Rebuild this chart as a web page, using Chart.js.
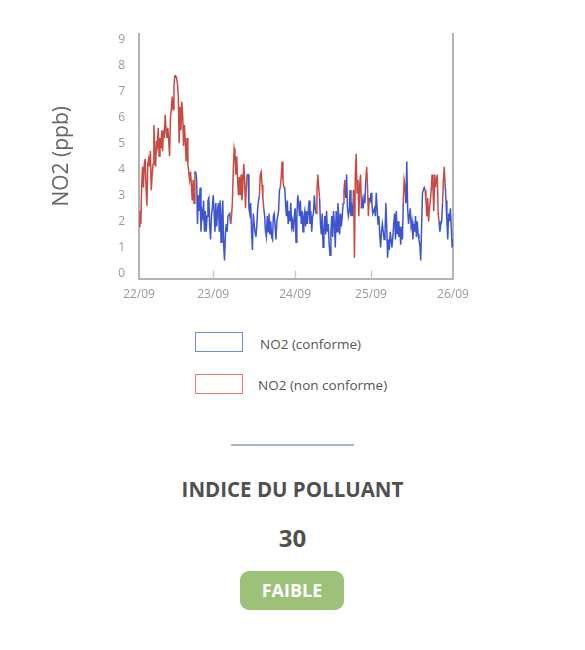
<!DOCTYPE html>
<html lang="fr">
<head>
<meta charset="utf-8">
<title>NO2</title>
<script src="https://cdn.jsdelivr.net/npm/chart.js@4/dist/chart.umd.min.js"></script>
<style>
  html, body { margin: 0; padding: 0; background: #fff; }
  body { width: 585px; height: 650px; position: relative; overflow: hidden; font-family: "Open Sans", sans-serif; }
  #chartBox { position: absolute; left: 0; top: 0; width: 585px; height: 312px; }
  .lgBox { position: absolute; left: 195px; width: 46px; height: 18px; border: 1px solid; background: #fff; }
  .lgText { position: absolute; font-size: 13.5px; color: #555; line-height: 18px; }
  .divider { position: absolute; left: 231px; top: 444px; width: 123px; height: 2px; background: #a6b8c7; }
  .indice { position: absolute; left: 0; width: 585px; text-align: center; font-weight: 700; color: #505050; }
  .badge { position: absolute; left: 240px; top: 571px; width: 104px; height: 39px; border-radius: 9px;
           background: #9cc27a; color: #fff; font-weight: 700; font-size: 18px; line-height: 39px; text-align: center; }
</style>
</head>
<body>
<div id="chartBox"><canvas id="no2Chart"></canvas></div>

<div class="lgBox" style="top:332px; border-color:#7289dc;"></div>
<div class="lgText" style="left:260px; top:335px;">NO2 (conforme)</div>
<div class="lgBox" style="top:374px; border-color:#ee7676;"></div>
<div class="lgText" style="left:258px; top:376px;">NO2 (non conforme)</div>

<div class="divider"></div>
<div class="indice" style="top:475px; font-size:20.5px;">INDICE DU POLLUANT</div>
<div class="indice" style="top:521px; font-size:24px;">30</div>
<div class="badge">FAIBLE</div>

<script>
// NO2 (ppb), one value per sample from 22/09 to 26/09
const no2 = [
  2.0, 2.6, 2.1, 3.6, 4.3, 3.5, 4.4, 4.6, 3.5, 2.8,
  4.4, 4.6, 4.3, 4.9, 3.4, 4.0, 4.4, 5.9, 4.9, 4.3,
  5.3, 5.1, 5.8, 4.7, 5.4, 5.0, 5.7, 4.9, 5.7, 5.4,
  6.3, 5.7, 5.4, 5.8, 5.3, 4.7, 6.2, 6.5, 7.0, 6.5,
  7.4, 7.8, 7.8, 7.7, 7.5, 7.0, 5.2, 6.6, 5.7, 6.8,
  6.3, 5.1, 5.9, 5.3, 4.5, 5.4, 4.4, 4.1, 3.8, 4.1,
  3.6, 3.0, 3.8, 2.9, 4.1, 4.1, 3.8, 2.1, 3.2, 2.6,
  3.5, 1.8, 2.6, 2.4, 3.0, 1.8, 2.6, 1.8, 2.4, 3.0,
  3.1, 2.0, 1.5, 2.4, 2.7, 3.2, 2.6, 1.8, 2.9, 2.0,
  2.6, 2.9, 1.8, 3.0, 1.4, 2.4, 3.0, 1.3, 0.7, 1.7,
  2.1, 1.8, 2.4, 2.4, 2.5, 2.1, 2.4, 2.9, 4.1, 5.0,
  4.8, 4.0, 4.7, 3.8, 3.2, 3.9, 3.2, 4.0, 3.0, 3.5,
  4.4, 3.9, 2.7, 3.5, 4.0, 4.0, 2.7, 2.5, 2.9, 1.8,
  1.1, 2.5, 2.1, 1.8, 1.6, 2.0, 2.7, 3.0, 3.2, 4.0,
  4.1, 3.6, 3.1, 2.7, 2.4, 1.8, 1.6, 2.4, 1.8, 2.5,
  1.7, 2.2, 1.6, 1.5, 2.4, 2.5, 2.0, 1.5, 2.2, 2.4,
  2.6, 3.4, 3.5, 3.9, 4.5, 3.8, 3.5, 3.5, 2.9, 2.4,
  3.0, 2.1, 2.6, 2.2, 2.9, 2.0, 2.2, 1.8, 2.4, 2.7,
  1.4, 2.4, 3.2, 2.9, 2.4, 3.0, 2.1, 2.6, 1.8, 2.4,
  2.6, 2.0, 2.6, 2.1, 2.6, 3.0, 2.1, 2.6, 1.8, 2.4,
  2.5, 3.2, 2.7, 2.5, 3.4, 4.0, 3.5, 3.1, 2.1, 1.7,
  2.5, 1.2, 1.8, 2.4, 1.7, 2.6, 1.8, 2.1, 1.3, 0.9,
  1.8, 2.4, 1.6, 2.6, 2.1, 1.2, 2.6, 1.8, 2.9, 2.4,
  1.7, 2.5, 2.0, 2.4, 2.9, 3.4, 3.8, 3.1, 4.0, 2.7,
  2.4, 2.6, 3.4, 2.4, 2.7, 2.4, 3.4, 0.8, 4.0, 4.8,
  3.3, 3.8, 2.4, 3.6, 4.0, 2.7, 3.0, 2.7, 3.1, 2.9,
  3.8, 4.3, 3.5, 2.4, 3.1, 3.0, 3.3, 2.9, 2.5, 2.6,
  2.7, 2.4, 3.3, 2.7, 2.1, 2.4, 1.7, 1.2, 1.8, 2.1,
  1.8, 1.5, 1.7, 2.9, 2.0, 0.8, 1.5, 1.1, 1.8, 1.5,
  1.2, 1.6, 2.1, 2.5, 1.5, 2.6, 1.7, 2.2, 1.6, 2.0,
  1.3, 2.0, 1.5, 2.9, 3.8, 3.6, 2.9, 4.5, 2.7, 2.1,
  2.4, 2.7, 2.0, 2.2, 1.5, 2.1, 1.8, 2.4, 1.6, 2.2,
  1.7, 1.5, 1.3, 0.7, 2.0, 3.3, 3.4, 3.5, 3.4, 3.0,
  2.4, 3.1, 2.2, 2.7, 3.0, 3.4, 4.0, 3.5, 2.6, 4.0,
  3.5, 3.8, 4.0, 2.5, 2.2, 1.8, 2.1, 2.2, 2.9, 3.8,
  4.3, 3.6, 3.0, 2.2, 1.5, 2.5, 2.2, 2.7, 2.0, 1.2,
  1.5
];

// sample ranges flagged "non conforme" (inclusive)
const nonConforme = [
  [0, 65], [105, 124], [138, 143], [162, 166], [203, 207],
  [234, 237], [246, 255], [260, 264], [303, 306], [328, 344], [348, 351]
];

const xTickIdx = [0, 85, 179, 266, 360];
const xTickLabels = ['22/09', '23/09', '24/09', '25/09', '26/09'];
const yTicks = [0, 1, 2, 3, 4, 5, 6, 7, 8, 9];

const BLUE = '#3f55cf';
const RED = '#c94a42';
const AXIS = '#b3b3b3';

function isRed(i) {
  return nonConforme.some(function(r) { return i >= r[0] && i <= r[1]; });
}

// small marks pointing up from the x axis
const innerTicks = {
  id: 'innerTicks',
  afterDraw(chart) {
    const sx = chart.scales.x, ctx = chart.ctx, b = chart.chartArea.bottom;
    ctx.save();
    ctx.strokeStyle = '#c8c8c8';
    ctx.lineWidth = 1.5;
    xTickIdx.slice(1, -1).forEach(function(v) {
      const px = Math.round(sx.getPixelForValue(v)) + 0.5;
      ctx.beginPath();
      ctx.moveTo(px, b);
      ctx.lineTo(px, b - 8);
      ctx.stroke();
    });
    ctx.restore();
  }
};

Chart.defaults.font.family = "'Open Sans', sans-serif";

new Chart(document.getElementById('no2Chart'), {
  type: 'line',
  data: {
    datasets: [{
      label: 'NO2',
      data: no2.map(function(v, i) { return { x: i, y: v }; }),
      borderColor: BLUE,
      borderWidth: 1.5,
      pointRadius: 0,
      tension: 0,
      segment: {
        borderColor: function(c) { return (isRed(c.p0DataIndex) && isRed(c.p1DataIndex)) ? RED : BLUE; }
      }
    }]
  },
  options: {
    responsive: true,
    maintainAspectRatio: false,
    animation: false,
    layout: { padding: { left: 49, top: 34, right: 132, bottom: 1 } },
    plugins: { legend: { display: false }, tooltip: { enabled: false } },
    scales: {
      x: {
        type: 'linear',
        min: 0,
        max: 360,
        afterBuildTicks: function(s) { s.ticks = xTickIdx.map(function(v) { return { value: v }; }); },
        ticks: {
          autoSkip: false,
          maxRotation: 0,
          padding: 9,
          color: '#999',
          font: { size: 12 },
          callback: function(v) { return xTickLabels[xTickIdx.indexOf(v)]; }
        },
        grid: { display: false, drawTicks: false },
        border: { color: AXIS, width: 2 }
      },
      y: {
        min: 0,
        max: 9.4,
        afterBuildTicks: function(s) { s.ticks = yTicks.map(function(v) { return { value: v }; }); },
        ticks: { color: '#9a9a9a', font: { size: 12 }, padding: 14, labelOffset: -5 },
        title: { display: true, text: 'NO2 (ppb)', color: '#666', font: { size: 21 }, padding: { top: 0, bottom: 30 } },
        grid: { display: false, drawTicks: false },
        border: { color: AXIS, width: 2 }
      },
      y2: {
        position: 'right',
        ticks: { display: false },
        grid: { display: false, drawTicks: false },
        border: { color: AXIS, width: 2 }
      }
    }
  },
  plugins: [innerTicks]
});
</script>
</body>
</html>
